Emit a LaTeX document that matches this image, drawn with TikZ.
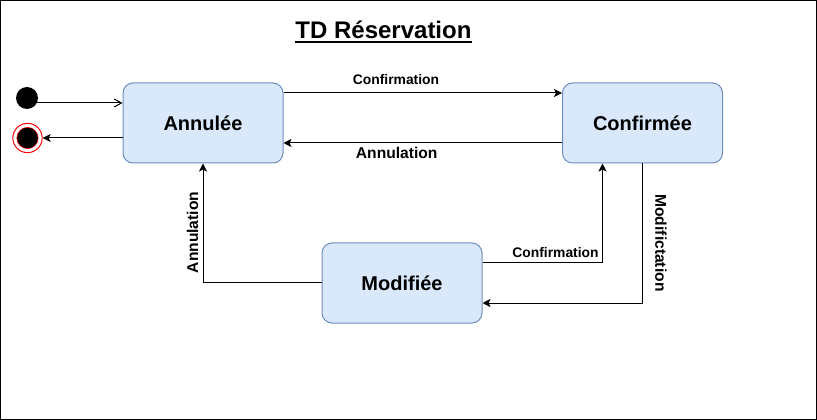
\documentclass[tikz,border=0pt]{standalone}
\usepackage{fontspec}
\setmainfont{Liberation Sans}
\usetikzlibrary{arrows.meta,calc}
\definecolor{boxfill}{HTML}{DAE8FC}
\definecolor{boxline}{HTML}{6C8EBF}
\begin{document}
\begin{tikzpicture}[x=0.75pt,y=-0.75pt,
  state/.style={draw=boxline,fill=boxfill,rounded corners=7.5pt,minimum width=120pt,minimum height=60pt,line width=0.75pt,font=\bfseries\fontsize{15}{18}\selectfont,inner sep=0pt},
  conn/.style={draw=black,line width=0.75pt,-{Stealth[length=6pt,width=6pt,inset=1.5pt]}},
  openconn/.style={draw=black,line width=0.75pt,-{Straight Barb[length=5.5pt,width=6pt]}},
  lbl/.style={font=\bfseries\fontsize{11.7}{14}\selectfont,inner sep=0pt},
  slbl/.style={font=\bfseries\fontsize{10.4}{12}\selectfont,inner sep=0pt}]
\useasboundingbox (0,0) rectangle (817,420);
\draw[line width=0.9pt] (0.6,0.6) rectangle (816.4,419.4);

% title
\node[font=\bfseries\fontsize{18}{22}\selectfont,anchor=base,inner sep=0pt] (title) at (383.5,38.5) {TD Réservation};
\draw[line width=1.5pt] ([yshift=-2.6pt]title.base west) -- ([yshift=-2.6pt]title.base east);

% states
\node[state] (A) at (203,123) {Annulée};
\node[state] (C) at (642.5,123) {Confirmée};
\node[state] (M) at (402,283) {Modifiée};

% initial and final
\node[circle,fill=black,minimum size=16.5pt,inner sep=0pt] (init) at (27,98) {};
\node[circle,draw=red,fill=white,line width=0.75pt,minimum size=22pt,inner sep=0pt] (fin) at (27.5,138) {};
\node[circle,draw=red,fill=black,line width=0.4pt,minimum size=16pt,inner sep=0pt] (finc) at (27.5,138) {};

\coordinate (s1) at (36.8,103);
\draw[openconn] (s1) -- (s1 -| A.west);
\draw[conn] ($(A.west)+(0,15)$) -- (fin.east);

% transitions
\draw[conn] ($(A.east)+(0,-30)$) -- ($(C.west)+(0,-30)$);
\draw[conn] ($(C.west)+(0,20)$) -- ($(A.east)+(0,20)$);
\draw[conn] ($(M.east)+(0,-20)$) -| ($(C.south)+(-40,0)$);
\draw[conn] (C.south) |- ($(M.east)+(0,20)$);
\draw[conn] (M.west) -| (A.south);

% labels
\node[slbl,anchor=base] (l1) at (396,85) {Confirmation};
\node[lbl,anchor=base] (l2) at (396.7,158.5) {Annulation};
\node[slbl,anchor=base] (l3) at (555.5,257.3) {Confirmation};
\node[lbl,rotate=-90] (l4) at (661,243) {Modifictation};
\node[lbl,rotate=90] (l5) at (192.5,232.5) {Annulation};
\end{tikzpicture}
\end{document}
